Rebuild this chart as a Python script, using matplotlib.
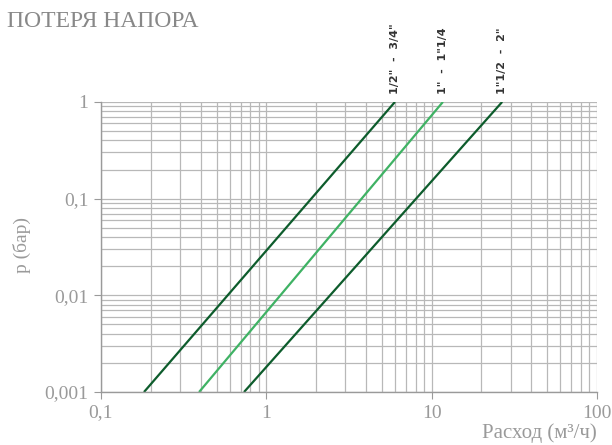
import matplotlib
matplotlib.use("Agg")
import matplotlib.pyplot as plt
from matplotlib.ticker import FixedLocator, FixedFormatter, LogLocator, NullFormatter

# данные: расход при p=0.001 и p=1 бар
names = ['1/2"  -  3/4"', '1"  -  1"1/4', '1"1/2  -  2"']
flow_low = [0.182, 0.392, 0.733]
flow_high = [6.0, 11.7, 26.7]
p_low = 0.001
p_high = 1
colors = ["#0d5c2c", "#3fb264", "#0d5c2c"]

x_ticks = [0.1, 1, 10, 100]
x_labels = ["0,1", "1", "10", "100"]
y_ticks = [0.001, 0.01, 0.1, 1]
y_labels = ["0,001", "0,01", "0,1", "1"]

grey = "#9a9a9a"
serif = "Liberation Serif"

fig = plt.figure(figsize=(6.12, 4.45), dpi=100)
ax = fig.add_axes([0.165, 0.119, 0.8105, 0.652])

for name, lo, hi, c in zip(names, flow_low, flow_high, colors):
    ax.plot([lo, hi], [p_low, p_high], color=c, lw=1.6, solid_capstyle="butt")
    ax.annotate(name, (hi, p_high), xytext=(0, 6), textcoords="offset points",
                rotation=90, ha="center", va="bottom", fontsize=8,
                fontweight="bold", color="#333333", family="DejaVu Sans")

ax.set_xscale("log")
ax.set_yscale("log")
ax.set_xlim(0.1, 100)
ax.set_ylim(0.001, 1)

ax.xaxis.set_major_locator(FixedLocator(x_ticks))
ax.xaxis.set_major_formatter(FixedFormatter(x_labels))
ax.yaxis.set_major_locator(FixedLocator(y_ticks))
ax.yaxis.set_major_formatter(FixedFormatter(y_labels))
ax.xaxis.set_minor_locator(LogLocator(base=10, subs=range(2, 10)))
ax.yaxis.set_minor_locator(LogLocator(base=10, subs=range(2, 10)))
ax.xaxis.set_minor_formatter(NullFormatter())
ax.yaxis.set_minor_formatter(NullFormatter())

ax.grid(True, which="both", color="#b8b8b8", lw=0.9)
ax.set_axisbelow(True)
for s in ["top", "right"]:
    ax.spines[s].set_visible(False)
for s in ["left", "bottom"]:
    ax.spines[s].set_color(grey)
    ax.spines[s].set_linewidth(1.0)

ax.tick_params(which="major", length=5, color=grey, labelcolor=grey, labelsize=14, pad=4)
ax.tick_params(which="minor", length=0)
for lab in ax.get_xticklabels() + ax.get_yticklabels():
    lab.set_family(serif)

fig.text(0.012, 0.952, "ПОТЕРЯ НАПОРА", family=serif, fontsize=17, color="#888888", va="center")
fig.text(0.036, 0.45, "p (бар)", family=serif, fontsize=14, color=grey, rotation=90, va="center", ha="center")
fig.text(0.9755, 0.027, "Расход (м³/ч)", family=serif, fontsize=15, color=grey, ha="right", va="center")

fig.savefig("out.png", dpi=100)
